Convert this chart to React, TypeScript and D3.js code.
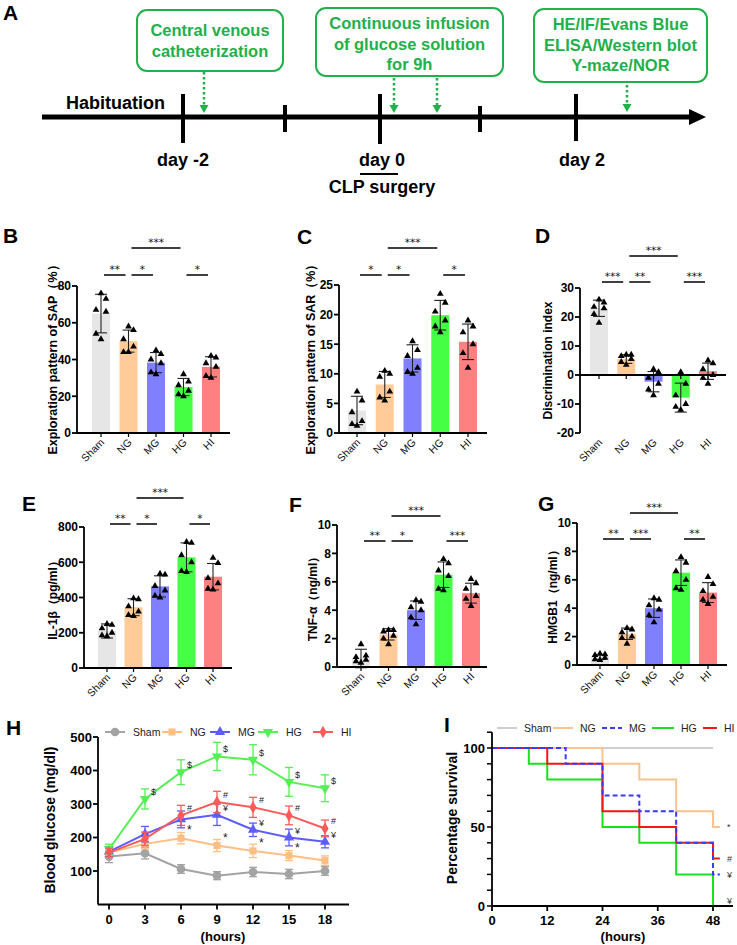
import React from "react";
import * as d3 from "d3";

const FONT = "'Liberation Sans', Arial, Helvetica, sans-serif";
const GREEN_A = "#22B04B";

// ---------- Bar panels data ----------
const categories = ["Sham", "NG", "MG", "HG", "HI"];
const barColors = ["#E6E6E6", "#FFCC99", "#8080FF", "#44FF44", "#FF8080"];

const sapMean = [65, 50, 38.3, 25, 36];
const sapSD = [10.5, 6, 5.5, 4.7, 5.5];
const sapPoints = [[76, 73, 67, 66, 54, 51], [58, 56, 51, 47, 44, 44], [45, 43, 40, 38, 33, 32], [32, 28, 26, 23, 21, 20], [42, 41, 38, 36, 31, 30]];
const sapSig = [{ a: 1, b: 3, label: "***", hi: true }, { a: 0, b: 1, label: "**" }, { a: 1, b: 2, label: "*" }, { a: 3, b: 4, label: "*" }];

const sarMean = [3.8, 8.2, 12.6, 19.9, 15.4];
const sarSD = [2.4, 2.2, 2.3, 2.5, 3.0];
const sarPoints = [[7, 5.5, 3.5, 2, 1.5, 1.2], [10.5, 10, 9.5, 7, 6, 5.5], [15.5, 14, 13, 11, 10.3, 10], [23.5, 22, 20.5, 19, 18, 17], [19, 18, 17, 15, 13.5, 11]];
const sarSig = [{ a: 1, b: 3, label: "***", hi: true }, { a: 0, b: 1, label: "*" }, { a: 1, b: 2, label: "*" }, { a: 3, b: 4, label: "*" }];

const diMean = [23, 5.5, -2.3, -7.8, 1.3];
const diSD = [2.8, 1.5, 3.5, 5, 2.8];
const diPoints = [[26, 25, 23.5, 23, 21, 18], [7, 7, 6.5, 5.5, 4.5, 3.5], [2, 1, -1, -3, -5, -7], [1, -3, -7, -10, -11, -12], [5, 4, 2, 0, -1, -3]];
const diSig = [{ a: 1, b: 3, label: "***", hi: true }, { a: 0, b: 1, label: "***" }, { a: 1, b: 2, label: "**" }, { a: 3, b: 4, label: "***" }];

const il1Mean = [210, 345, 463, 628, 518];
const il1SD = [40, 48, 60, 82, 75];
const il1Points = [[250, 245, 225, 200, 185, 180], [395, 390, 350, 320, 300, 295], [535, 530, 465, 440, 410, 400], [715, 710, 640, 600, 550, 545], [625, 595, 510, 480, 450, 445]];
const il1Sig = [{ a: 1, b: 3, label: "***", hi: true }, { a: 0, b: 1, label: "**" }, { a: 1, b: 2, label: "*" }, { a: 3, b: 4, label: "*" }];

const tnfMean = [0.6, 2.3, 4.0, 6.5, 5.2];
const tnfSD = [0.65, 0.4, 0.65, 0.9, 0.7];
const tnfPoints = [[1.6, 0.8, 0.7, 0.5, 0.4, 0.3], [2.6, 2.6, 2.5, 2.2, 2.0, 1.6], [4.7, 4.6, 4.2, 4.0, 3.5, 3.0], [7.6, 7.3, 6.8, 6.4, 5.5, 5.4], [6.2, 5.9, 5.5, 5.0, 4.8, 4.3]];
const tnfSig = [{ a: 1, b: 3, label: "***", hi: true }, { a: 0, b: 1, label: "**" }, { a: 1, b: 2, label: "*" }, { a: 3, b: 4, label: "***" }];

const hmgMean = [0.55, 2.2, 4.0, 6.5, 5.1];
const hmgSD = [0.15, 0.4, 0.65, 0.9, 0.7];
const hmgPoints = [[0.8, 0.75, 0.7, 0.5, 0.4, 0.35], [2.6, 2.5, 2.3, 2.0, 1.9, 1.5], [4.7, 4.6, 4.2, 3.9, 3.5, 3.0], [7.6, 7.2, 6.6, 6.0, 5.4, 5.3], [6.2, 5.7, 5.2, 4.8, 4.6, 4.3]];
const hmgSig = [{ a: 1, b: 3, label: "***", hi: true }, { a: 0, b: 1, label: "**" }, { a: 1, b: 2, label: "***" }, { a: 3, b: 4, label: "**" }];

// ---------- Blood glucose (H) ----------
const hours = [0, 3, 6, 9, 12, 15, 18];
const shamGlu = [143, 153, 106, 86, 97, 91, 100];
const shamGluSD = [18, 17, 13, 12, 14, 14, 13];
const ngGlu = [155, 181, 198, 176, 160, 146, 131];
const ngGluSD = [14, 15, 17, 18, 20, 15, 14];
const mgGlu = [158, 210, 254, 268, 223, 200, 187];
const mgGluSD = [15, 23, 25, 32, 20, 25, 18];
const hgGlu = [165, 315, 395, 442, 432, 366, 347];
const hgGluSD = [15, 30, 37, 42, 45, 43, 40];
const hiGlu = [155, 196, 266, 306, 290, 266, 227];
const hiGluSD = [13, 20, 30, 32, 30, 28, 25];
const shamMarks = ["", "", "", "", "", "", ""];
const ngMarks = ["", "", "*", "*", "*", "*", ""];
const mgMarks = ["", "", "", "¥", "¥", "¥", "¥"];
const hgMarks = ["", "$", "$", "$", "$", "$", "$"];
const hiMarks = ["", "", "#", "#", "#", "#", "#"];
const gluYTicks = [100, 200, 300, 400, 500];

// ---------- Survival (I) ----------
const shamSurvT = [0, 48];
const shamSurv = [100, 100];
const ngSurvT = [0, 24, 32, 40, 48, 49.5];
const ngSurv = [100, 90, 80, 60, 50, 50];
const mgSurvT = [0, 16, 24, 32, 40, 48, 49.5];
const mgSurv = [100, 90, 70, 60, 40, 20, 20];
const hgSurvT = [0, 8, 12, 24, 32, 40, 48];
const hgSurv = [100, 90, 80, 50, 40, 20, 0];
const hiSurvT = [0, 12, 24, 32, 40, 48, 49.5];
const hiSurv = [100, 90, 60, 50, 40, 30, 30];
const survXTicks = [0, 12, 24, 36, 48];
const survYTicks = [0, 50, 100];
const survEndMarks = [{ v: 50, t: "*" }, { v: 30, t: "#" }, { v: 20, t: "¥" }, { v: 3, t: "¥" }];

const ptOffsets = [0, 5, -5, 5, -5, 0];

function BarPanel(p: any) {
  const y = d3.scaleLinear().domain(p.domain).range([p.yBot, p.yTop]);
  const x = d3.scalePoint<string>().domain(categories).range([p.c0, p.c4]);
  const ticks = d3.range(p.domain[0], p.domain[1] + p.step / 2, p.step);
  const base = y(Math.max(p.domain[0], 0));
  const tri = d3.symbol().type(d3.symbolTriangle).size(20)() as string;
  const bw = 18;
  const sw = 1.8;
  return (
    <g fontFamily={FONT}>
      <text x={p.letterX} y={p.letterY} fontSize={21} fontWeight="bold">{p.letter}</text>
      {categories.map((c, i) => {
        const ym = y(p.means[i]);
        return <rect key={c} x={x(c)! - bw / 2} y={Math.min(ym, base)} width={bw} height={Math.abs(ym - base)} fill={barColors[i]} />;
      })}
      {categories.map((c, i) => {
        const cx = x(c)!;
        const y1 = y(p.means[i] + p.sds[i]);
        const y2 = y(p.means[i] - p.sds[i]);
        return (
          <g key={c} stroke="#222" strokeWidth={1.1}>
            <line x1={cx} x2={cx} y1={y1} y2={y2} />
            <line x1={cx - 6} x2={cx + 6} y1={y1} y2={y1} />
            <line x1={cx - 6} x2={cx + 6} y1={y2} y2={y2} />
          </g>
        );
      })}
      {categories.map((c, i) =>
        p.points[i].map((v: number, k: number) => (
          <path key={c + k} d={tri} transform={`translate(${x(c)! + ptOffsets[k]},${y(v)})`} fill="#000" />
        ))
      )}
      {/* y axis */}
      <line x1={p.axisX} x2={p.axisX} y1={p.yTop} y2={p.yBot} stroke="#000" strokeWidth={sw} />
      {ticks.map((t: number) => (
        <g key={t}>
          <line x1={p.axisX - 5} x2={p.axisX} y1={y(t)} y2={y(t)} stroke="#000" strokeWidth={sw} />
          <text x={p.axisX - 6} y={y(t)} dy="0.36em" textAnchor="end" fontSize={12} fontWeight="bold">{t}</text>
        </g>
      ))}
      {/* x axis */}
      <line x1={p.axisX} x2={p.xEnd} y1={base} y2={base} stroke="#000" strokeWidth={sw} />
      {categories.map((c) => (
        <line key={c} x1={x(c)} x2={x(c)} y1={base} y2={base + 4} stroke="#000" strokeWidth={1.2} />
      ))}
      {categories.map((c) => (
        <text key={c} transform={`translate(${x(c)! + 4},${p.yBot + 10}) rotate(-45)`} textAnchor="end" fontSize={10.5} fill="#111">{c}</text>
      ))}
      {/* y label */}
      <text transform={`translate(${p.labelX},${(p.yTop + p.yBot) / 2 + (p.labelDy || 0)}) rotate(-90)`} textAnchor="middle" fontSize={p.labelSize || 12} fontWeight="bold">{p.ylabel}</text>
      {/* significance */}
      {p.sig.map((s: any, k: number) => {
        const ly = s.hi ? p.sigHigh : p.sigLow;
        const xa = x(categories[s.a])! + 3;
        const xb = x(categories[s.b])! - 3;
        return (
          <g key={k}>
            <line x1={xa} x2={xb} y1={ly} y2={ly} stroke="#000" strokeWidth={1.5} />
            <text x={(xa + xb) / 2} y={ly - 2} textAnchor="middle" fontSize={10.5} fontFamily="'DejaVu Sans', sans-serif" fill="#000" textRendering="geometricPrecision">{s.label}</text>
          </g>
        );
      })}
    </g>
  );
}

function TimelinePanel() {
  const boxes = [
    { x: 137, y: 10, w: 146, h: 61, lines: ["Central venous", "catheterization"], ly: [36, 57] },
    { x: 316, y: 8, w: 187, h: 68, lines: ["Continuous infusion", "of glucose solution", "for 9h"], ly: [29, 50, 70] },
    { x: 534, y: 9, w: 173, h: 73, lines: ["HE/IF/Evans Blue", "ELISA/Western blot", "Y-maze/NOR"], ly: [30, 51, 71] },
  ];
  const arrows = [
    { x: 204, y1: 72, y2: 113 },
    { x: 394, y1: 78, y2: 113 },
    { x: 437, y1: 78, y2: 113 },
    { x: 627, y1: 85, y2: 112 },
  ];
  const ticks = [
    { x: 183, y1: 94, y2: 143 },
    { x: 285, y1: 105, y2: 132 },
    { x: 380, y1: 94, y2: 144 },
    { x: 480, y1: 106, y2: 132 },
    { x: 576, y1: 94, y2: 141 },
  ];
  return (
    <g fontFamily={FONT} fontWeight="bold">
      <text x={3} y={20} fontSize={21}>A</text>
      {boxes.map((b, i) => (
        <g key={i}>
          <rect x={b.x} y={b.y} width={b.w} height={b.h} rx={10} fill="#fff" stroke={GREEN_A} strokeWidth={2} />
          {b.lines.map((l, k) => (
            <text key={k} x={b.x + b.w / 2} y={b.ly[k]} textAnchor="middle" fontSize={16.5} fill={GREEN_A}>{l}</text>
          ))}
        </g>
      ))}
      {arrows.map((a, i) => (
        <g key={i}>
          <line x1={a.x} x2={a.x} y1={a.y1} y2={a.y2 - 6} stroke={GREEN_A} strokeWidth={2.5} strokeDasharray="2.5,2.5" />
          <path d={`M${a.x - 4.5},${a.y2 - 8} L${a.x + 4.5},${a.y2 - 8} L${a.x},${a.y2} Z`} fill={GREEN_A} />
        </g>
      ))}
      <line x1={42} x2={692} y1={117} y2={117} stroke="#000" strokeWidth={5} />
      <path d="M689,109 L706,117 L689,125 Z" fill="#000" />
      {ticks.map((t, i) => (
        <line key={i} x1={t.x} x2={t.x} y1={t.y1} y2={t.y2} stroke="#000" strokeWidth={4} />
      ))}
      <text x={66} y={109} fontSize={18}>Habituation</text>
      <text x={183} y={166} textAnchor="middle" fontSize={18}>day -2</text>
      <text x={382} y={166} textAnchor="middle" fontSize={18}>day 0</text>
      <text x={582} y={166} textAnchor="middle" fontSize={18}>day 2</text>
      <line x1={360} x2={398} y1={174} y2={174} stroke="#000" strokeWidth={2} />
      <text x={382} y={193} textAnchor="middle" fontSize={18}>CLP surgery</text>
    </g>
  );
}

const gluSeries = [
  { name: "Sham", v: shamGlu, sd: shamGluSD, marks: shamMarks, color: "#A3A3A3", sym: d3.symbolCircle, size: 60 },
  { name: "NG", v: ngGlu, sd: ngGluSD, marks: ngMarks, color: "#FFBE82", sym: d3.symbolSquare, size: 50 },
  { name: "MG", v: mgGlu, sd: mgGluSD, marks: mgMarks, color: "#5C5CFF", sym: d3.symbolTriangle, size: 45 },
  { name: "HG", v: hgGlu, sd: hgGluSD, marks: hgMarks, color: "#55EE55", sym: "down", size: 45 },
  { name: "HI", v: hiGlu, sd: hiGluSD, marks: hiMarks, color: "#FF5A5A", sym: d3.symbolDiamond, size: 45 },
];

function symPath(sym: any, size: number) {
  if (sym === "down") {
    const p = d3.symbol().type(d3.symbolTriangle).size(size)() as string;
    return { d: p, rot: 180 };
  }
  return { d: d3.symbol().type(sym).size(size)() as string, rot: 0 };
}

function GlucosePanel() {
  const x = d3.scaleLinear().domain([0, 18]).range([109, 325]);
  const y = d3.scaleLinear().domain([0, 500]).range([904.5, 737]);
  const axX = 98;
  const sw = 1.8;
  const line = d3.line<number>().x((_, i) => x(hours[i])).y((d) => y(d));
  const legendX = [105, 162, 210, 258, 313];
  return (
    <g fontFamily={FONT}>
      <text x={6} y={735} fontSize={21} fontWeight="bold">H</text>
      {gluSeries.map((s, si) => {
        const sp = symPath(s.sym, s.size);
        return (
          <g key={s.name}>
            <path d={line(s.v)!} fill="none" stroke={s.color} strokeWidth={2} />
            {s.v.map((v, i) => (
              <g key={i} stroke={s.color} strokeWidth={1.3}>
                <line x1={x(hours[i])} x2={x(hours[i])} y1={y(v + s.sd[i])} y2={y(v - s.sd[i])} />
                <line x1={x(hours[i]) - 4} x2={x(hours[i]) + 4} y1={y(v + s.sd[i])} y2={y(v + s.sd[i])} />
                <line x1={x(hours[i]) - 4} x2={x(hours[i]) + 4} y1={y(v - s.sd[i])} y2={y(v - s.sd[i])} />
              </g>
            ))}
            {s.v.map((v, i) => (
              <path key={"m" + i} d={sp.d} transform={`translate(${x(hours[i])},${y(v)}) rotate(${sp.rot})`} fill={s.color} />
            ))}
            {s.marks.map((m, i) =>
              m ? (
                <text key={"t" + i} x={x(hours[i]) + 6} y={y(s.v[i]) - 4} fontSize={m === "*" ? 12 : 9} fill="#222">{m}</text>
              ) : null
            )}
            {/* legend */}
            <line x1={legendX[si]} x2={legendX[si] + 20} y1={732} y2={732} stroke={s.color} strokeWidth={2} />
            <path d={sp.d} transform={`translate(${legendX[si] + 10},732) rotate(${sp.rot})`} fill={s.color} />
            <text x={legendX[si] + 28} y={732} dy="0.35em" fontSize={10.5} fill="#222">{s.name}</text>
          </g>
        );
      })}
      <line x1={axX} x2={axX} y1={y(500)} y2={904.5} stroke="#000" strokeWidth={sw} />
      {gluYTicks.map((t) => (
        <g key={t}>
          <line x1={axX - 5} x2={axX} y1={y(t)} y2={y(t)} stroke="#000" strokeWidth={sw} />
          <text x={axX - 6} y={y(t)} dy="0.36em" textAnchor="end" fontSize={13} fontWeight="bold">{t}</text>
        </g>
      ))}
      <line x1={axX} x2={349} y1={904.5} y2={904.5} stroke="#000" strokeWidth={sw} />
      {hours.map((h) => (
        <g key={h}>
          <line x1={x(h)} x2={x(h)} y1={904.5} y2={909.5} stroke="#000" strokeWidth={sw} />
          <text x={x(h)} y={924} textAnchor="middle" fontSize={13} fontWeight="bold">{h}</text>
        </g>
      ))}
      <text x={223} y={941} textAnchor="middle" fontSize={13} fontWeight="bold">(hours)</text>
      <text transform="translate(55,820) rotate(-90)" textAnchor="middle" fontSize={14} fontWeight="bold">Blood glucose (mg/dl)</text>
    </g>
  );
}

const survSeries = [
  { name: "Sham", t: shamSurvT, v: shamSurv, color: "#D0D0D0", dash: "" },
  { name: "NG", t: ngSurvT, v: ngSurv, color: "#F9C38E", dash: "" },
  { name: "HG", t: hgSurvT, v: hgSurv, color: "#1BE01B", dash: "" },
  { name: "HI", t: hiSurvT, v: hiSurv, color: "#F01818", dash: "" },
  { name: "MG", t: mgSurvT, v: mgSurv, color: "#3A3AFF", dash: "5,3" },
];
const survLegend = ["Sham", "NG", "MG", "HG", "HI"];

function SurvivalPanel() {
  const x = d3.scaleLinear().domain([0, 48]).range([492, 713]);
  const y = d3.scaleLinear().domain([0, 100]).range([906, 748]);
  const sw = 1.8;
  const minor = d3.range(0, 111, 10);
  const legendX = [497, 553, 602, 652, 703];
  const legendW = [20, 20, 20, 22, 14];
  return (
    <g fontFamily={FONT}>
      <text x={444} y={732} fontSize={21} fontWeight="bold">I</text>
      {survSeries.map((s) => {
        const line = d3.line<number>().x((_, i) => x(s.t[i])).y((d) => y(d)).curve(d3.curveStepAfter);
        return <path key={s.name} d={line(s.v)!} fill="none" stroke={s.color} strokeWidth={2} strokeDasharray={s.dash} />;
      })}
      {survEndMarks.map((m, i) => (
        <text key={i} x={727} y={y(m.v)} dy="0.35em" fontSize={9} fill="#333">{m.t}</text>
      ))}
      <line x1={492} x2={492} y1={y(110)} y2={906} stroke="#000" strokeWidth={sw} />
      {minor.map((t) => (
        <line key={t} x1={487} x2={492} y1={y(t)} y2={y(t)} stroke="#000" strokeWidth={1.5} />
      ))}
      {survYTicks.map((t) => (
        <text key={t} x={485} y={y(t)} dy="0.36em" textAnchor="end" fontSize={13} fontWeight="bold">{t}</text>
      ))}
      <line x1={492} x2={733} y1={906} y2={906} stroke="#000" strokeWidth={sw} />
      {survXTicks.map((t) => (
        <g key={t}>
          <line x1={x(t)} x2={x(t)} y1={906} y2={911} stroke="#000" strokeWidth={sw} />
          <text x={x(t)} y={925} textAnchor="middle" fontSize={13} fontWeight="bold">{t}</text>
        </g>
      ))}
      <text x={623} y={941} textAnchor="middle" fontSize={13} fontWeight="bold">(hours)</text>
      <text transform="translate(457,818) rotate(-90)" textAnchor="middle" fontSize={14} fontWeight="bold">Percentage survival</text>
      {survLegend.map((n, i) => {
        const s = survSeries.find((q) => q.name === n)!;
        return (
          <g key={n}>
            <line x1={legendX[i]} x2={legendX[i] + legendW[i]} y1={728} y2={728} stroke={s.color} strokeWidth={2} strokeDasharray={s.dash} />
            <text x={legendX[i] + legendW[i] + 7} y={728} dy="0.35em" fontSize={10.5} fill="#222">{n}</text>
          </g>
        );
      })}
    </g>
  );
}

export default function App() {
  return (
    <svg width={737} height={945} style={{ position: "absolute", left: 0, top: 0, background: "#fff" }}>
      <rect width={737} height={945} fill="#fff" />
      <TimelinePanel />
      <BarPanel letter="B" letterX={3} letterY={243} means={sapMean} sds={sapSD} points={sapPoints} sig={sapSig}
        domain={[0, 80]} step={20} axisX={77} yTop={286} yBot={433} c0={101} c4={211} xEnd={230}
        labelX={57} labelDy={-3} labelSize={12.5} ylabel="Exploration pattern of SAP（%）" sigLow={275} sigHigh={248} />
      <BarPanel letter="C" letterX={297} letterY={244} means={sarMean} sds={sarSD} points={sarPoints} sig={sarSig}
        domain={[0, 25]} step={5} axisX={339} yTop={285} yBot={433} c0={357} c4={468} xEnd={487}
        labelX={315} labelDy={-3} labelSize={12.5} ylabel="Exploration pattern of SAR（%）" sigLow={275} sigHigh={248} />
      <BarPanel letter="D" letterX={535} letterY={243} means={diMean} sds={diSD} points={diPoints} sig={diSig}
        domain={[-20, 30]} step={10} axisX={580} yTop={288} yBot={433} c0={599} c4={708} xEnd={726}
        labelX={552} ylabel="Discrimination index" sigLow={282} sigHigh={256} />
      <BarPanel letter="E" letterX={22} letterY={511} means={il1Mean} sds={il1SD} points={il1Points} sig={il1Sig}
        domain={[0, 800]} step={200} axisX={84} yTop={527} yBot={668} c0={107} c4={213} xEnd={232}
        labelX={57} ylabel="IL-1β（pg/ml）" sigLow={524} sigHigh={498} />
      <BarPanel letter="F" letterX={289} letterY={512} means={tnfMean} sds={tnfSD} points={tnfPoints} sig={tnfSig}
        domain={[0, 10]} step={2} axisX={337} yTop={525} yBot={667} c0={361} c4={471} xEnd={487}
        labelX={317} ylabel="TNF-α（ng/ml）" sigLow={541} sigHigh={516} />
      <BarPanel letter="G" letterX={538} letterY={511} means={hmgMean} sds={hmgSD} points={hmgPoints} sig={hmgSig}
        domain={[0, 10]} step={2} axisX={577} yTop={523} yBot={665} c0={600} c4={708} xEnd={727}
        labelX={557} ylabel="HMGB1（ng/ml）" sigLow={539} sigHigh={513} />
      <GlucosePanel />
      <SurvivalPanel />
    </svg>
  );
}
